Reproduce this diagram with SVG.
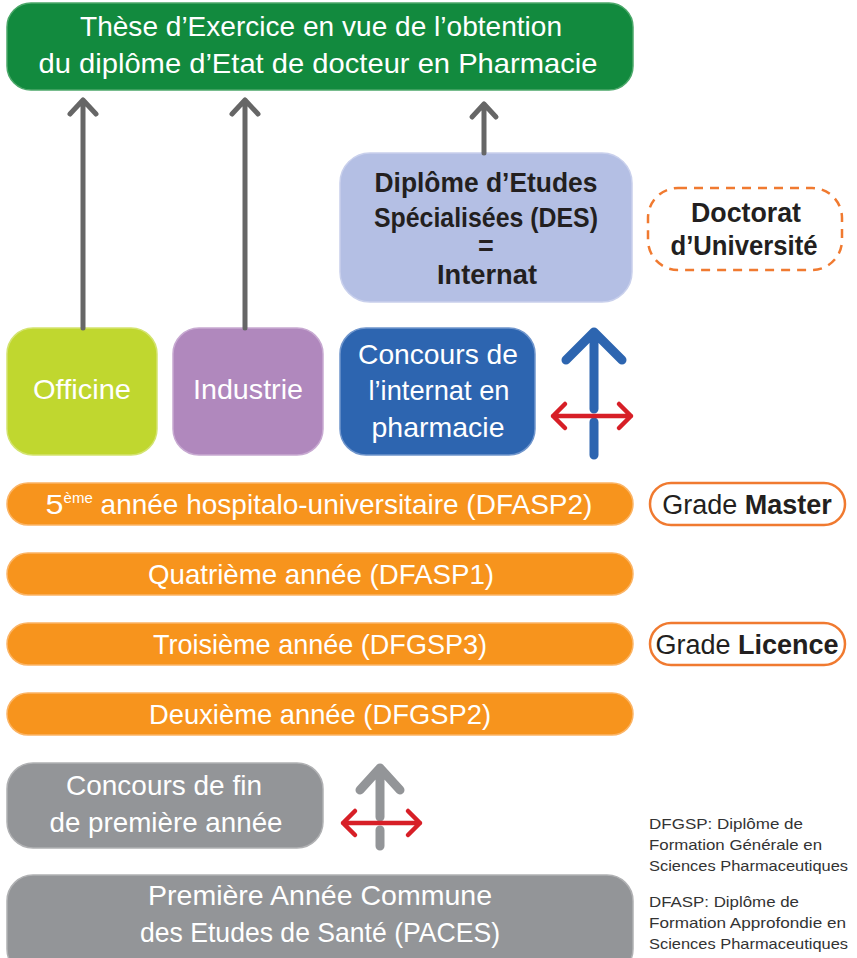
<svg xmlns="http://www.w3.org/2000/svg" width="857" height="958" viewBox="0 0 857 958">
<defs>
<style>
.w{font-family:"Liberation Sans",Arial,sans-serif;fill:#fff;text-anchor:middle}
.d{font-family:"Liberation Sans",Arial,sans-serif;fill:#231f20;text-anchor:middle}
.leg{font-family:"Liberation Sans",Arial,sans-serif;fill:#333;font-size:15px}
.bar{fill:#f7941d;stroke:#fbb465;stroke-width:1.5}
.grade{fill:#fff;stroke:#f07a30;stroke-width:2.5}
.ga{stroke:#666;stroke-width:5;fill:none;stroke-linecap:round;stroke-linejoin:round}
.red{stroke:#d71f27;stroke-width:4.5;fill:none;stroke-linecap:round;stroke-linejoin:round}
</style>
</defs>
<rect width="857" height="958" fill="#fff"/>

<g id="these">
<rect x="7" y="3" width="626" height="87" rx="24" fill="#128a3e" stroke="#4ca86a" stroke-width="1.5"/>
<text class="w" x="321" y="36" font-size="28" textLength="482" lengthAdjust="spacingAndGlyphs">Thèse d’Exercice en vue de l’obtention</text>
<text class="w" x="318" y="73" font-size="28" textLength="559" lengthAdjust="spacingAndGlyphs">du diplôme d’Etat de docteur en Pharmacie</text>
</g>

<g id="des">
<rect x="340" y="153" width="292" height="149" rx="30" fill="#b4bfe4" stroke="#c9d0ec" stroke-width="1.5"/>
<text class="d" x="486" y="192" font-size="27" font-weight="bold" textLength="223" lengthAdjust="spacingAndGlyphs">Diplôme d’Etudes</text>
<text class="d" x="486" y="227" font-size="27" font-weight="bold" textLength="224" lengthAdjust="spacingAndGlyphs">Spécialisées (DES)</text>
<text class="d" x="486" y="255" font-size="27" font-weight="bold">=</text>
<text class="d" x="487" y="284" font-size="27" font-weight="bold" textLength="100" lengthAdjust="spacingAndGlyphs">Internat</text>
</g>

<g id="doctorat">
<rect x="648" y="188" width="194" height="82" rx="30" fill="#fff" stroke="#f07a30" stroke-width="2.5" stroke-dasharray="9,7"/>
<text class="d" x="746" y="222" font-size="27" font-weight="bold" textLength="110" lengthAdjust="spacingAndGlyphs">Doctorat</text>
<text class="d" x="744" y="255" font-size="27" font-weight="bold" textLength="147" lengthAdjust="spacingAndGlyphs">d’Université</text>
</g>

<g id="officine">
<rect x="7" y="328" width="150" height="127" rx="26" fill="#c0d72f" stroke="#d3e36f" stroke-width="1.5"/>
<text class="w" x="82" y="399" font-size="28" textLength="98" lengthAdjust="spacingAndGlyphs">Officine</text>
</g>

<g id="industrie">
<rect x="173" y="328" width="150" height="127" rx="26" fill="#b088bd" stroke="#c7a9d1" stroke-width="1.5"/>
<text class="w" x="248" y="399" font-size="28" textLength="110" lengthAdjust="spacingAndGlyphs">Industrie</text>
</g>

<g id="concours-internat">
<rect x="340" y="328" width="195" height="127" rx="26" fill="#2d65b0" stroke="#6f95cc" stroke-width="1.5"/>
<text class="w" x="438" y="364" font-size="28" textLength="160" lengthAdjust="spacingAndGlyphs">Concours de</text>
<text class="w" x="439" y="400" font-size="28" textLength="141" lengthAdjust="spacingAndGlyphs">l’internat en</text>
<text class="w" x="438" y="437" font-size="28" textLength="133" lengthAdjust="spacingAndGlyphs">pharmacie</text>
</g>

<g id="annee5">
<rect class="bar" x="7" y="483" width="626" height="42" rx="21"/>
<text class="w" x="319" y="514" font-size="28"><tspan textLength="18" lengthAdjust="spacingAndGlyphs">5</tspan><tspan font-size="15" dy="-11">ème</tspan><tspan dy="11"> année hospitalo-universitaire (DFASP2)</tspan></text>
</g>

<g id="grade-master">
<rect class="grade" x="650" y="483" width="195" height="42" rx="21"/>
<text class="d" x="747" y="514" font-size="27"><tspan>Grade </tspan><tspan font-weight="bold">Master</tspan></text>
</g>

<g id="annee4">
<rect class="bar" x="7" y="553" width="626" height="42" rx="21"/>
<text class="w" x="321" y="584" font-size="28" textLength="346" lengthAdjust="spacingAndGlyphs">Quatrième année (DFASP1)</text>
</g>

<g id="annee3">
<rect class="bar" x="7" y="623" width="626" height="42" rx="21"/>
<text class="w" x="320" y="654" font-size="28" textLength="334" lengthAdjust="spacingAndGlyphs">Troisième année (DFGSP3)</text>
</g>

<g id="grade-licence">
<rect class="grade" x="650" y="623" width="195" height="42" rx="21"/>
<text class="d" x="747" y="654" font-size="27"><tspan>Grade </tspan><tspan font-weight="bold">Licence</tspan></text>
</g>

<g id="annee2">
<rect class="bar" x="7" y="693" width="626" height="42" rx="21"/>
<text class="w" x="320" y="724" font-size="28" textLength="342" lengthAdjust="spacingAndGlyphs">Deuxième année (DFGSP2)</text>
</g>

<g id="concours-fin">
<rect x="7" y="763" width="316" height="85" rx="26" fill="#939598" stroke="#b0b1b3" stroke-width="1.5"/>
<text class="w" x="164" y="795" font-size="28" textLength="196" lengthAdjust="spacingAndGlyphs">Concours de fin</text>
<text class="w" x="166" y="832" font-size="28" textLength="233" lengthAdjust="spacingAndGlyphs">de première année</text>
</g>

<g id="paces">
<rect x="7" y="875" width="626" height="100" rx="26" fill="#939598" stroke="#b0b1b3" stroke-width="1.5"/>
<text class="w" x="320" y="905" font-size="28" textLength="344" lengthAdjust="spacingAndGlyphs">Première Année Commune</text>
<text class="w" x="320" y="942" font-size="28" textLength="360" lengthAdjust="spacingAndGlyphs">des Etudes de Santé (PACES)</text>
</g>

<g id="legende">
<text class="leg" x="649" y="829" textLength="154" lengthAdjust="spacingAndGlyphs">DFGSP: Diplôme de</text>
<text class="leg" x="649" y="850" textLength="173" lengthAdjust="spacingAndGlyphs">Formation Générale en</text>
<text class="leg" x="649" y="871" textLength="199" lengthAdjust="spacingAndGlyphs">Sciences Pharmaceutiques</text>
<text class="leg" x="649" y="907" textLength="150" lengthAdjust="spacingAndGlyphs">DFASP: Diplôme de</text>
<text class="leg" x="649" y="928" textLength="197" lengthAdjust="spacingAndGlyphs">Formation Approfondie en</text>
<text class="leg" x="649" y="949" textLength="199" lengthAdjust="spacingAndGlyphs">Sciences Pharmaceutiques</text>
</g>

<g id="connecteurs">
<path class="ga" d="M83 328 V100 M70 114 L83 100 L96 114"/>
<path class="ga" d="M245 328 V100 M232 114 L245 100 L258 114"/>
<path class="ga" d="M484 153 V104 M472 117 L484 104 L496 117"/>
<path d="M594 455 V422 M594 409 V334 M566 360 L594 332 L622 360" stroke="#2d65b0" stroke-width="9" fill="none" stroke-linecap="round" stroke-linejoin="round"/>
<path class="red" d="M553 416 H631 M565 404 L553 416 L565 428 M619 404 L631 416 L619 428"/>
<path d="M380 846 V830 M380 817 V768 M360 790 L380 768 L400 790" stroke="#939598" stroke-width="9" fill="none" stroke-linecap="round" stroke-linejoin="round"/>
<path class="red" d="M343 823 H420 M355 811 L343 823 L355 835 M408 811 L420 823 L408 835"/>
</g>
</svg>
